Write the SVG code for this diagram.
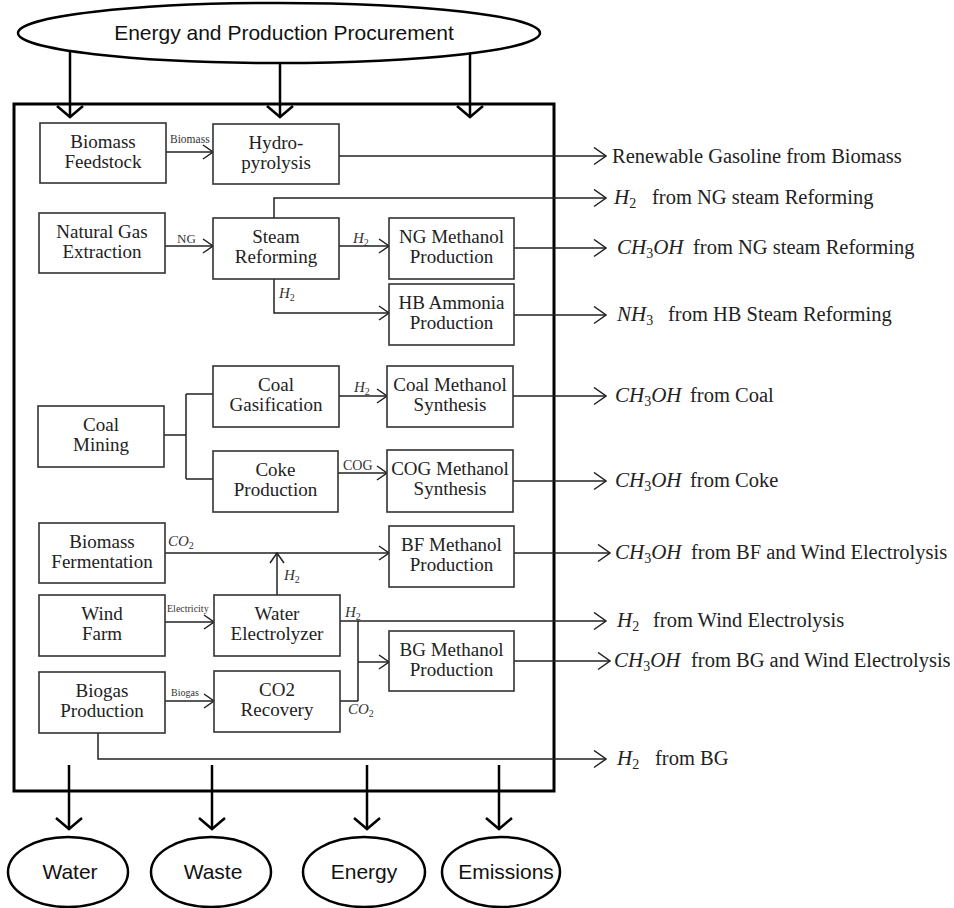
<svg xmlns="http://www.w3.org/2000/svg" width="954" height="908" viewBox="0 0 954 908">
<style>
.node rect{fill:#fff;stroke:#333;stroke-width:1.6}
.nt{font-family:"Liberation Serif","Times New Roman",serif;font-size:19px;fill:#222;text-anchor:middle}
.ell{fill:#fff;stroke:#000;stroke-width:2.5}
.et{font-family:"Liberation Sans",Arial,sans-serif;font-size:21px;fill:#111;text-anchor:middle}
.c{fill:none;stroke:#222;stroke-width:1.5}
.big{fill:none;stroke:#000;stroke-width:2.5}
.frame{fill:none;stroke:#000;stroke-width:3}
.out{font-family:"Liberation Serif","Times New Roman",serif;font-size:20.5px;fill:#222}
.m{font-style:italic;font-size:21px}
.sub{font-size:14px}
.lbl{font-family:"Liberation Serif","Times New Roman",serif;fill:#333}
.lm{font-style:italic;font-size:15px}
.ls{font-size:10px}
</style>
<defs>
<marker id="arrS" markerUnits="userSpaceOnUse" markerWidth="12" markerHeight="16" viewBox="0 0 12 16" refX="11" refY="8" orient="auto"><path d="M1,1 L11,8 L1,15" fill="none" stroke="#222" stroke-width="1.5"/></marker>
<marker id="arrM" markerUnits="userSpaceOnUse" markerWidth="14" markerHeight="19" viewBox="0 0 14 19" refX="13" refY="9.5" orient="auto"><path d="M1,1 L13,9.5 L1,18" fill="none" stroke="#222" stroke-width="1.5"/></marker>
<marker id="arrB" markerUnits="userSpaceOnUse" markerWidth="14" markerHeight="30" viewBox="0 0 14 30" refX="12.5" refY="15" orient="auto"><path d="M1.5,2 L12.5,15 L1.5,28" fill="none" stroke="#000" stroke-width="2.5"/></marker>
</defs>
<rect class="frame" x="14" y="104" width="540" height="687"/>
<g id="connectors">
<path class="big" d="M70,51 V117" marker-end="url(#arrB)"/>
<path class="big" d="M280,63 V117" marker-end="url(#arrB)"/>
<path class="big" d="M470,53 V117" marker-end="url(#arrB)"/>
<path class="big" d="M69,765 V829" marker-end="url(#arrB)"/>
<path class="big" d="M212,765 V829" marker-end="url(#arrB)"/>
<path class="big" d="M367,765 V829" marker-end="url(#arrB)"/>
<path class="big" d="M499,765 V829" marker-end="url(#arrB)"/>
<path class="c" d="M166,152 H213" marker-end="url(#arrS)"/>
<path class="c" d="M339,156 H606" marker-end="url(#arrM)"/>
<path class="c" d="M274,218 V198 H606" marker-end="url(#arrM)"/>
<path class="c" d="M165,246 H213" marker-end="url(#arrS)"/>
<path class="c" d="M339,246 H389" marker-end="url(#arrS)"/>
<path class="c" d="M274,279 V313 H389" marker-end="url(#arrS)"/>
<path class="c" d="M514,248 H606" marker-end="url(#arrM)"/>
<path class="c" d="M514,315 H606" marker-end="url(#arrM)"/>
<path class="c" d="M164,435 H186 M186,394 V479 M186,394 H213 M186,479 H213"/>
<path class="c" d="M339,396 H387" marker-end="url(#arrS)"/>
<path class="c" d="M338,473 H387" marker-end="url(#arrS)"/>
<path class="c" d="M513,396 H606" marker-end="url(#arrM)"/>
<path class="c" d="M513,481 H606" marker-end="url(#arrM)"/>
<path class="c" d="M165,553 H389" marker-end="url(#arrS)"/>
<path class="c" d="M277,595 V553" marker-end="url(#arrS)"/>
<path class="c" d="M514,553 H610" marker-end="url(#arrM)"/>
<path class="c" d="M165,622 H214" marker-end="url(#arrS)"/>
<path class="c" d="M340,621 H606" marker-end="url(#arrM)"/>
<path class="c" d="M340,701 H358 M358,621 V701"/>
<path class="c" d="M358,662 H389" marker-end="url(#arrS)"/>
<path class="c" d="M514,661 H610" marker-end="url(#arrM)"/>
<path class="c" d="M165,701 H214" marker-end="url(#arrS)"/>
<path class="c" d="M98,733 V759 H606" marker-end="url(#arrM)"/>
</g>
<g id="labels" class="lbl">
<text x="170" y="143" font-size="11.5">Biomass</text>
<text x="177" y="243" font-size="13">NG</text>
<text x="353" y="243"><tspan class="lm">H</tspan><tspan class="ls" dy="3">2</tspan></text>
<text x="279" y="298"><tspan class="lm">H</tspan><tspan class="ls" dy="3">2</tspan></text>
<text x="354" y="392"><tspan class="lm">H</tspan><tspan class="ls" dy="3">2</tspan></text>
<text x="343" y="470" font-size="14">COG</text>
<text x="168" y="546"><tspan class="lm">CO</tspan><tspan class="ls" dy="3">2</tspan></text>
<text x="284" y="580"><tspan class="lm">H</tspan><tspan class="ls" dy="3">2</tspan></text>
<text x="167" y="612" font-size="10">Electricity</text>
<text x="345" y="617"><tspan class="lm">H</tspan><tspan class="ls" dy="3">2</tspan></text>
<text x="171" y="696" font-size="10">Biogas</text>
<text x="348" y="714"><tspan class="lm">CO</tspan><tspan class="ls" dy="3">2</tspan></text>
</g>
<g id="procurement"><ellipse class="ell" cx="279" cy="33" rx="261" ry="30"/><text class="et" x="284" y="40">Energy and Production Procurement</text></g>
<g id="water"><ellipse class="ell" cx="68" cy="872" rx="60" ry="35"/><text class="et" x="70" y="879">Water</text></g>
<g id="waste"><ellipse class="ell" cx="211" cy="872" rx="60" ry="35"/><text class="et" x="213" y="879">Waste</text></g>
<g id="energy"><ellipse class="ell" cx="364" cy="872" rx="61" ry="35"/><text class="et" x="364" y="879">Energy</text></g>
<g id="emissions"><ellipse class="ell" cx="501" cy="872" rx="59" ry="35"/><text class="et" x="506" y="879">Emissions</text></g>
<g id="feedstock" class="node"><rect x="40" y="123" width="126" height="60"/><text class="nt"><tspan x="103" y="148">Biomass</tspan><tspan x="103" y="168">Feedstock</tspan></text></g>
<g id="hydro" class="node"><rect x="213" y="124" width="126" height="60"/><text class="nt"><tspan x="276" y="149">Hydro-</tspan><tspan x="276" y="169">pyrolysis</tspan></text></g>
<g id="ngext" class="node"><rect x="39" y="213" width="126" height="60"/><text class="nt"><tspan x="102" y="238">Natural Gas</tspan><tspan x="102" y="258">Extraction</tspan></text></g>
<g id="steam" class="node"><rect x="213" y="218" width="126" height="61"/><text class="nt"><tspan x="276" y="243">Steam</tspan><tspan x="276" y="263">Reforming</tspan></text></g>
<g id="ngmeth" class="node"><rect x="389" y="218" width="125" height="61"/><text class="nt"><tspan x="451.5" y="243">NG Methanol</tspan><tspan x="451.5" y="263">Production</tspan></text></g>
<g id="hbamm" class="node"><rect x="389" y="284" width="125" height="61"/><text class="nt"><tspan x="451.5" y="309">HB Ammonia</tspan><tspan x="451.5" y="329">Production</tspan></text></g>
<g id="coalmin" class="node"><rect x="38" y="406" width="126" height="61"/><text class="nt"><tspan x="101" y="431">Coal</tspan><tspan x="101" y="451">Mining</tspan></text></g>
<g id="coalgas" class="node"><rect x="213" y="366" width="126" height="61"/><text class="nt"><tspan x="276" y="391">Coal</tspan><tspan x="276" y="411">Gasification</tspan></text></g>
<g id="coalmeth" class="node"><rect x="387" y="366" width="126" height="61"/><text class="nt"><tspan x="450" y="391">Coal Methanol</tspan><tspan x="450" y="411">Synthesis</tspan></text></g>
<g id="coke" class="node"><rect x="213" y="451" width="125" height="61"/><text class="nt"><tspan x="275.5" y="476">Coke</tspan><tspan x="275.5" y="496">Production</tspan></text></g>
<g id="cogmeth" class="node"><rect x="387" y="450" width="126" height="62"/><text class="nt"><tspan x="450" y="475">COG Methanol</tspan><tspan x="450" y="495">Synthesis</tspan></text></g>
<g id="bferm" class="node"><rect x="39" y="523" width="126" height="60"/><text class="nt"><tspan x="102" y="548">Biomass</tspan><tspan x="102" y="568">Fermentation</tspan></text></g>
<g id="bfmeth" class="node"><rect x="389" y="526" width="125" height="61"/><text class="nt"><tspan x="451.5" y="551">BF Methanol</tspan><tspan x="451.5" y="571">Production</tspan></text></g>
<g id="wind" class="node"><rect x="39" y="595" width="126" height="61"/><text class="nt"><tspan x="102" y="620">Wind</tspan><tspan x="102" y="640">Farm</tspan></text></g>
<g id="electrolyzer" class="node"><rect x="214" y="595" width="126" height="61"/><text class="nt"><tspan x="277" y="620">Water</tspan><tspan x="277" y="640">Electrolyzer</tspan></text></g>
<g id="bgmeth" class="node"><rect x="389" y="631" width="125" height="60"/><text class="nt"><tspan x="451.5" y="656">BG Methanol</tspan><tspan x="451.5" y="676">Production</tspan></text></g>
<g id="biogas" class="node"><rect x="39" y="672" width="126" height="61"/><text class="nt"><tspan x="102" y="697">Biogas</tspan><tspan x="102" y="717">Production</tspan></text></g>
<g id="co2rec" class="node"><rect x="214" y="671" width="126" height="61"/><text class="nt"><tspan x="277" y="696">CO2</tspan><tspan x="277" y="716">Recovery</tspan></text></g>
<g id="outputs" class="out">
<text y="163"><tspan x="612">Renewable Gasoline from Biomass</tspan></text>
<text y="204"><tspan x="614" class="m">H</tspan><tspan class="sub" dy="4">2</tspan><tspan x="652" dy="-4">from NG steam Reforming</tspan></text>
<text y="254"><tspan x="617" class="m">CH</tspan><tspan class="sub" dy="4">3</tspan><tspan class="m" dy="-4">OH</tspan><tspan x="693">from NG steam Reforming</tspan></text>
<text y="321"><tspan x="617" class="m">NH</tspan><tspan class="sub" dy="4">3</tspan><tspan x="668" dy="-4">from HB Steam Reforming</tspan></text>
<text y="402"><tspan x="615" class="m">CH</tspan><tspan class="sub" dy="4">3</tspan><tspan class="m" dy="-4">OH</tspan><tspan x="690">from Coal</tspan></text>
<text y="487"><tspan x="615" class="m">CH</tspan><tspan class="sub" dy="4">3</tspan><tspan class="m" dy="-4">OH</tspan><tspan x="690">from Coke</tspan></text>
<text y="559"><tspan x="615" class="m">CH</tspan><tspan class="sub" dy="4">3</tspan><tspan class="m" dy="-4">OH</tspan><tspan x="691">from BF and Wind Electrolysis</tspan></text>
<text y="627"><tspan x="617" class="m">H</tspan><tspan class="sub" dy="4">2</tspan><tspan x="653" dy="-4">from Wind Electrolysis</tspan></text>
<text y="667"><tspan x="614" class="m">CH</tspan><tspan class="sub" dy="4">3</tspan><tspan class="m" dy="-4">OH</tspan><tspan x="691">from BG and Wind Electrolysis</tspan></text>
<text y="765"><tspan x="617" class="m">H</tspan><tspan class="sub" dy="4">2</tspan><tspan x="655" dy="-4">from BG</tspan></text>
</g>
</svg>
